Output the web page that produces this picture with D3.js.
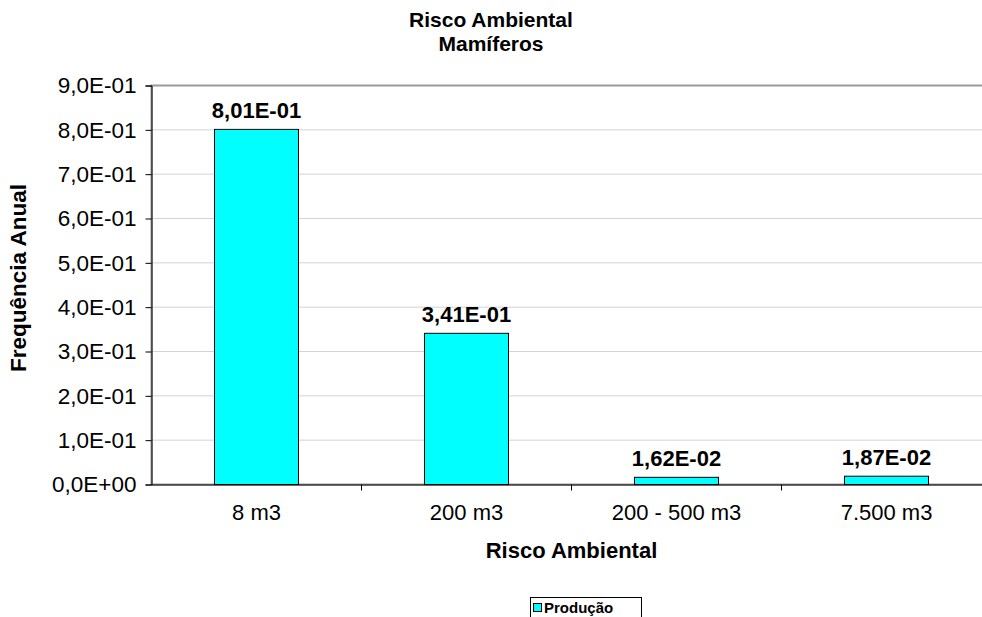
<!DOCTYPE html>
<html>
<head>
<meta charset="utf-8">
<script src="https://cdn.jsdelivr.net/npm/d3@7"></script>
<style>
  html, body { margin: 0; padding: 0; background: #fff; }
  svg { display: block; font-family: "Liberation Sans", Arial, Helvetica, sans-serif; }
</style>
</head>
<body>
<svg id="chart" width="982" height="617"></svg>
<script>
const categories = ["8 m3", "200 m3", "200 - 500 m3", "7.500 m3"];
const values = [0.801, 0.341, 0.0162, 0.0187];
const valueLabels = ["8,01E-01", "3,41E-01", "1,62E-02", "1,87E-02"];
const yTicks = [0, 0.1, 0.2, 0.3, 0.4, 0.5, 0.6, 0.7, 0.8, 0.9];
const yTickLabels = ["0,0E+00", "1,0E-01", "2,0E-01", "3,0E-01", "4,0E-01", "5,0E-01", "6,0E-01", "7,0E-01", "8,0E-01", "9,0E-01"];
const seriesName = "Produção";
const titleLines = ["Risco Ambiental", "Mamíferos"];
const xTitle = "Risco Ambiental";
const yTitle = "Frequência Anual";

const svg = d3.select("#chart");
const pLeft = 151.5, pRight = 991.5, pTop = 85.5, pBottom = 484.5;

const x = d3.scaleBand().domain(categories).range([pLeft, pRight]).paddingInner(0.6).paddingOuter(0.3);
const xOuter = d3.scaleBand().domain(categories).range([pLeft, pRight]);
const y = d3.scaleLinear().domain([0, 0.9]).range([pBottom, pTop]);

// gridlines
svg.append("g").selectAll("line").data(yTicks.filter(d => d > 0 && d < 0.9)).join("line")
  .attr("x1", pLeft).attr("x2", pRight)
  .attr("y1", d => y(d)).attr("y2", d => y(d))
  .attr("stroke", "#d4d4d4").attr("stroke-width", 1);

// plot border
svg.append("rect").attr("x", pLeft).attr("y", pTop).attr("width", pRight - pLeft).attr("height", pBottom - pTop)
  .attr("fill", "none").attr("stroke", "#9a9a9a").attr("stroke-width", 2);

// bars
svg.append("g").selectAll("rect").data(values).join("rect")
  .attr("x", (d, i) => x(categories[i]))
  .attr("width", x.bandwidth())
  .attr("y", d => y(d))
  .attr("height", d => y(0) - y(d))
  .attr("fill", "#00ffff").attr("stroke", "#000").attr("stroke-width", 1);

// value labels
svg.append("g").selectAll("text").data(values).join("text")
  .attr("x", (d, i) => x(categories[i]) + x.bandwidth() / 2)
  .attr("y", d => y(d) - 11)
  .attr("text-anchor", "middle")
  .attr("font-weight", "bold").attr("font-size", 22)
  .text((d, i) => valueLabels[i]);

// y axis
const yAxis = d3.axisLeft(y).tickValues(yTicks).tickFormat((d, i) => yTickLabels[i]).tickSize(6).tickPadding(9);
const gy = svg.append("g").attr("transform", `translate(${pLeft},0)`).call(yAxis);
gy.select(".domain").attr("stroke", "#000");
gy.selectAll(".tick line").attr("stroke", "#000");
gy.selectAll(".tick text").attr("font-size", 22.5).attr("fill", "#000");
gy.attr("font-family", null).attr("font-size", null);

// x axis
const xAxis = d3.axisBottom(xOuter).tickSize(0).tickPadding(20);
const gx = svg.append("g").attr("transform", `translate(0,${pBottom})`).call(xAxis);
gx.select(".domain").attr("stroke", "#000");
gx.selectAll(".tick text").attr("font-size", 22).attr("fill", "#000");
gx.attr("font-family", null).attr("font-size", null);
// boundary ticks
svg.append("g").selectAll("line").data(categories.slice(1)).join("line")
  .attr("x1", d => xOuter(d)).attr("x2", d => xOuter(d))
  .attr("y1", pBottom).attr("y2", pBottom + 6).attr("stroke", "#000");

// titles
svg.append("text").attr("x", 491).attr("y", 27).attr("text-anchor", "middle")
  .attr("font-weight", "bold").attr("font-size", 21)
  .selectAll("tspan").data(titleLines).join("tspan")
  .attr("x", 491).attr("dy", (d, i) => i === 0 ? 0 : 24).text(d => d);

svg.append("text").attr("x", (pLeft + pRight) / 2).attr("y", 558).attr("text-anchor", "middle")
  .attr("font-weight", "bold").attr("font-size", 22).text(xTitle);

svg.append("text").attr("transform", `translate(26,278) rotate(-90)`)
  .attr("text-anchor", "middle").attr("font-weight", "bold").attr("font-size", 22.5).text(yTitle);

// legend
const lg = svg.append("g");
lg.append("rect").attr("x", 530.5).attr("y", 597.5).attr("width", 111).attr("height", 40)
  .attr("fill", "#fff").attr("stroke", "#000").attr("stroke-width", 1);
lg.append("rect").attr("x", 533.5).attr("y", 603.5).attr("width", 8).attr("height", 8)
  .attr("fill", "#00ffff").attr("stroke", "#000").attr("stroke-width", 1);
lg.append("text").attr("x", 544).attr("y", 613).attr("font-weight", "bold").attr("font-size", 15).text(seriesName);
</script>
</body>
</html>
